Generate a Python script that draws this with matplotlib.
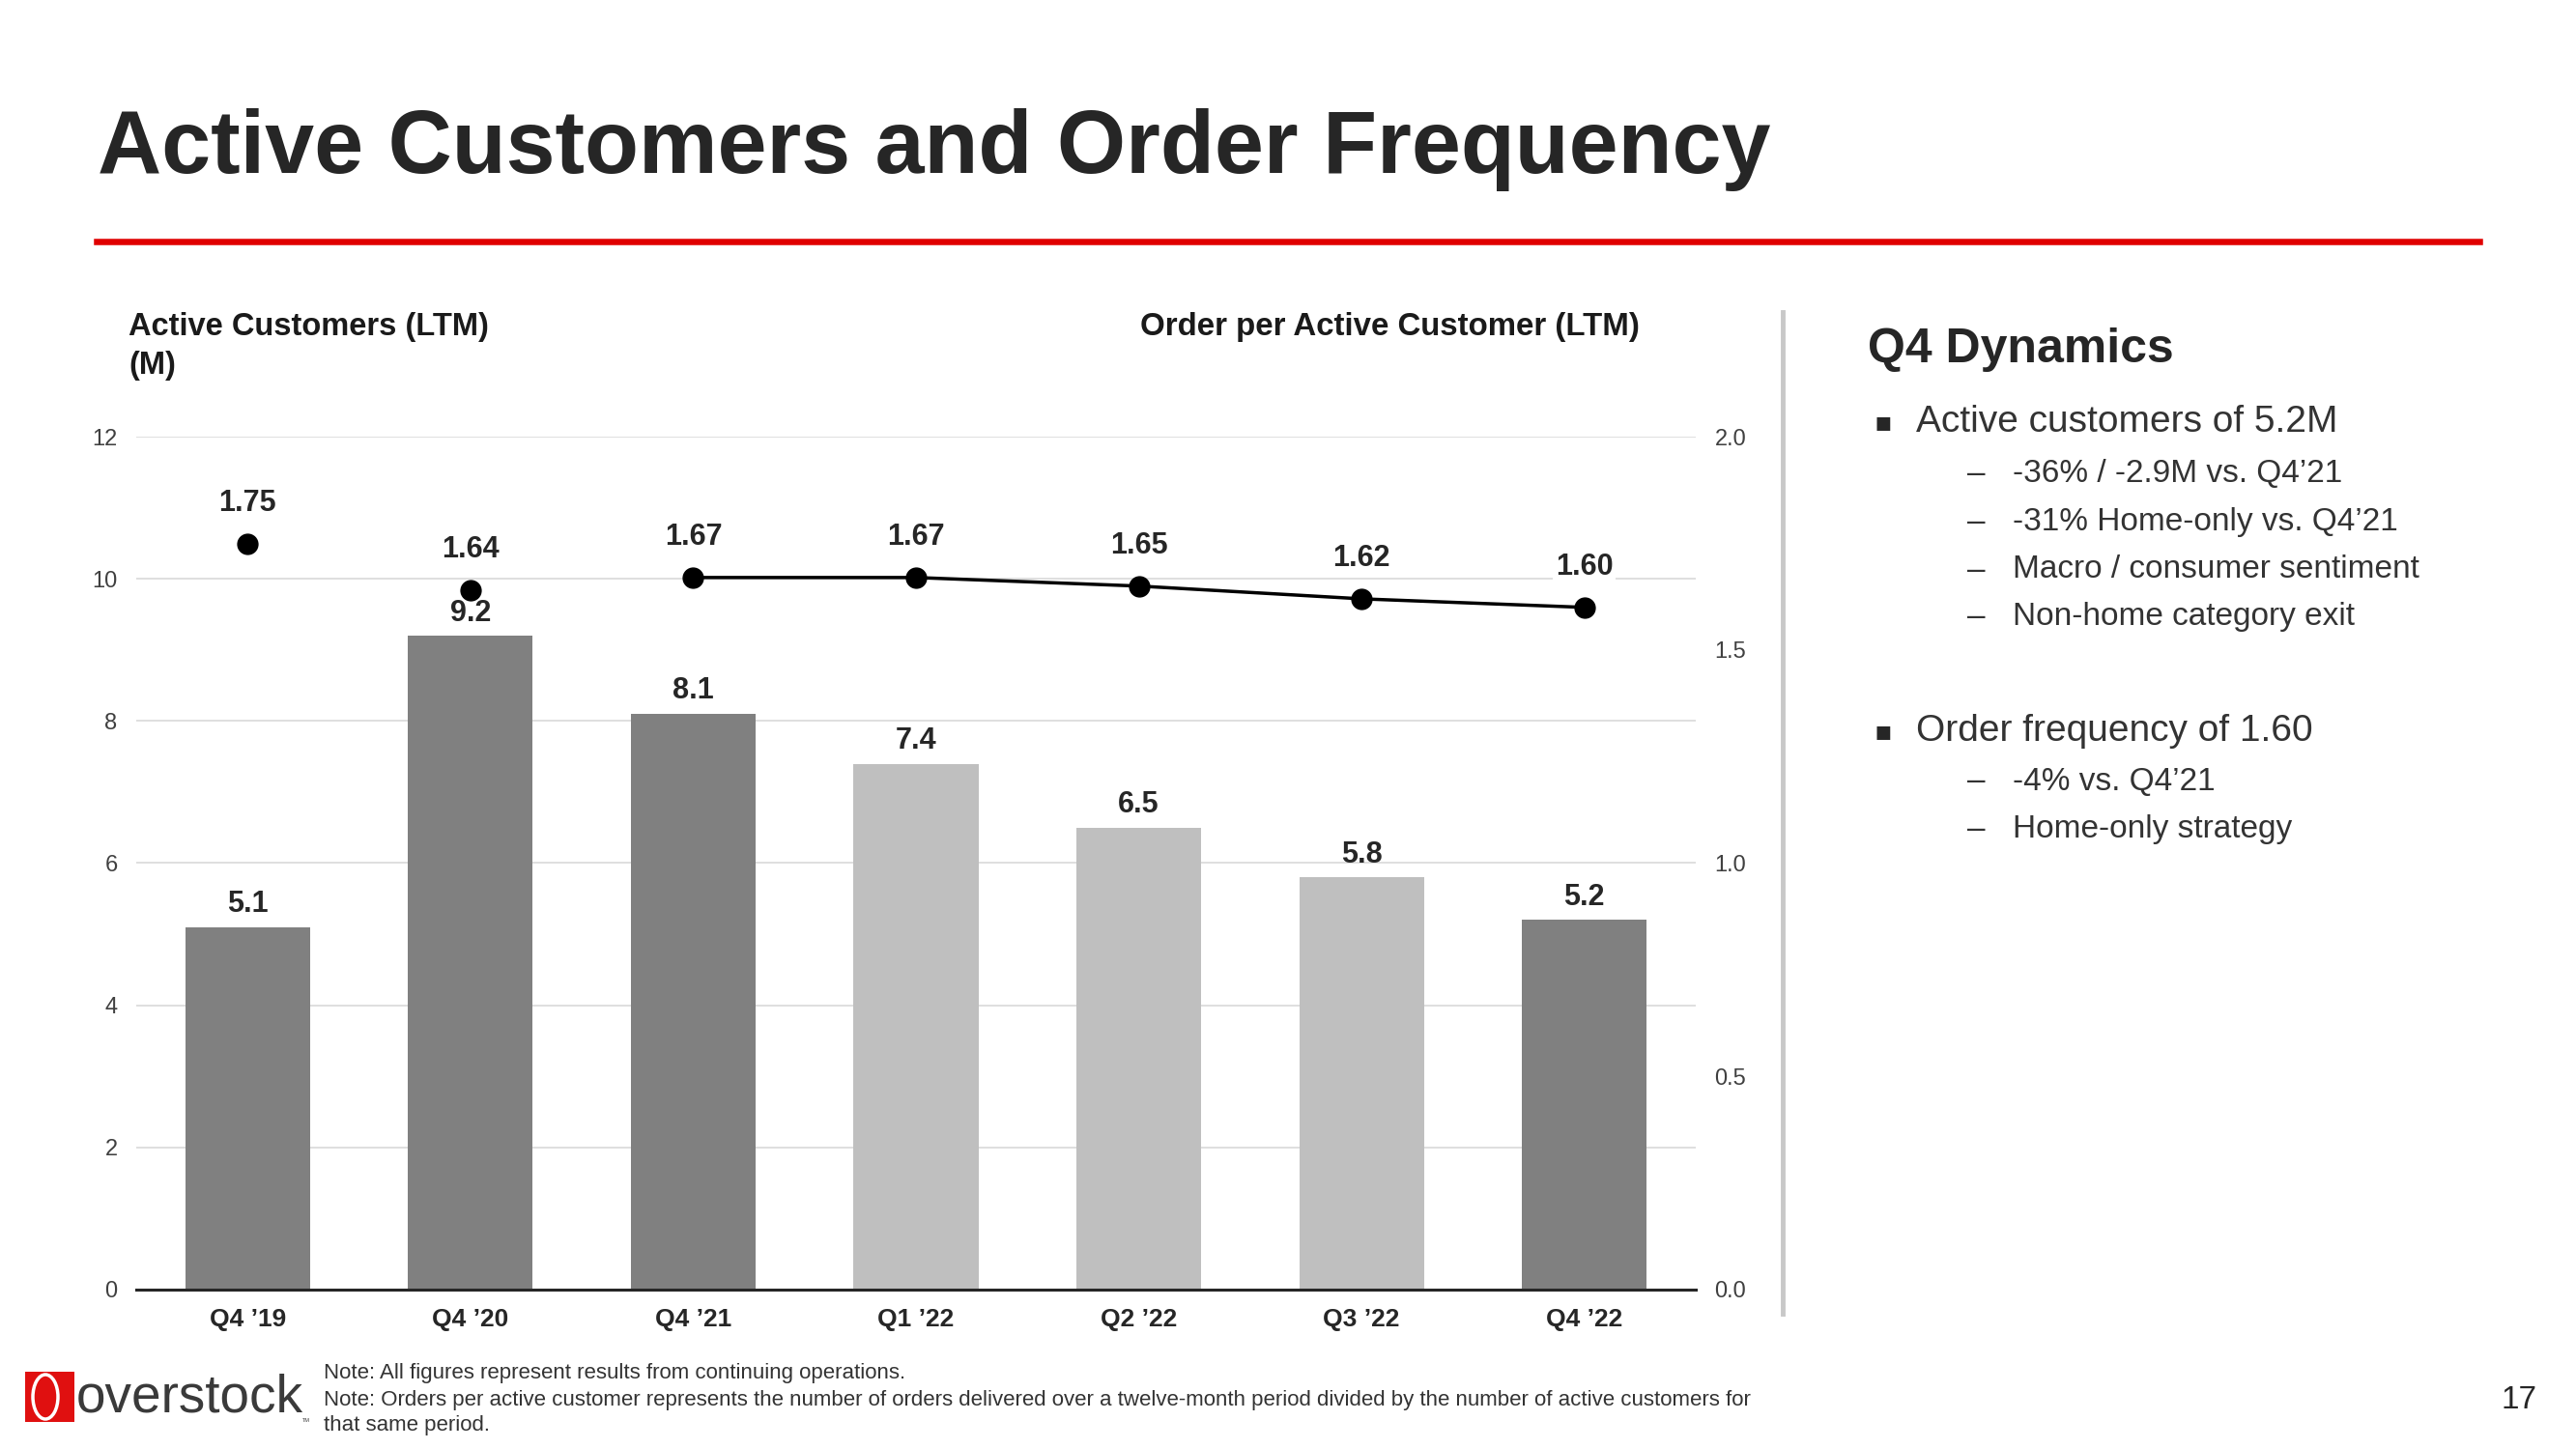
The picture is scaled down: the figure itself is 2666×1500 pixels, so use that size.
import matplotlib.pyplot as plt
from matplotlib.patches import Rectangle, Ellipse

quarters = ['Q4 \u201919', 'Q4 \u201920', 'Q4 \u201921', 'Q1 \u201922', 'Q2 \u201922', 'Q3 \u201922', 'Q4 \u201922']
customers = [5.1, 9.2, 8.1, 7.4, 6.5, 5.8, 5.2]
orders = [1.75, 1.64, 1.67, 1.67, 1.65, 1.62, 1.60]
bar_colors = ['#808080', '#808080', '#808080', '#BFBFBF', '#BFBFBF', '#BFBFBF', '#808080']

plt.rcParams['font.family'] = ['Liberation Sans', 'DejaVu Sans']

fig = plt.figure(figsize=(26.66, 15), dpi=100)

# title + red rule
fig.text(0.038, 0.8807, 'Active Customers and Order Frequency', fontsize=66, fontweight='bold',
         color='#262626', va='baseline', ha='left')
fig.add_artist(plt.Line2D([0.0375, 0.9625], [0.8333, 0.8333], color='#E00000', lw=4.7))

ax = fig.add_axes([0.0529, 0.1102, 0.6054, 0.5883])
x = list(range(len(quarters)))
ax.bar(x, customers, width=0.56, color=bar_colors, zorder=2)
ax.set_xlim(-0.5, 6.5)
ax.set_ylim(0, 12)
ax.set_yticks(range(0, 13, 2))
ax.grid(axis='y', color='#D9D9D9', lw=1.2, zorder=0)
for s in ['top', 'right', 'left']:
    ax.spines[s].set_visible(False)
ax.spines['bottom'].set_color('#262626')
ax.spines['bottom'].set_linewidth(2.2)
ax.spines['bottom'].set_zorder(3)
ax.tick_params(axis='y', length=0, labelsize=17, labelcolor='#404040', pad=14)
ax.tick_params(axis='x', length=0, pad=14)
ax.set_xticks(x)
ax.set_xticklabels(quarters, fontsize=19, fontweight='bold', color='#262626')

for xi, v in zip(x, customers):
    ax.annotate(f'{v:.1f}', (xi, v), xytext=(0, 17), textcoords='offset points',
                ha='center', va='center', fontsize=22, fontweight='bold', color='#262626')

ax2 = ax.twinx()
ax2.set_ylim(0, 2.0)
ax2.set_yticks([0, 0.5, 1.0, 1.5, 2.0])
ax2.set_yticklabels(['0.0', '0.5', '1.0', '1.5', '2.0'])
for s in ax2.spines.values():
    s.set_visible(False)
ax2.tick_params(axis='y', length=0, labelsize=17, labelcolor='#404040', pad=14)
ax2.plot(x[2:], orders[2:], color='black', lw=2.5, zorder=3)
ax2.plot(x, orders, 'o', color='black', markersize=15, zorder=4)
for xi, v in zip(x, orders):
    ax2.annotate(f'{v:.2f}', (xi, v), xytext=(0, 30), textcoords='offset points',
                 ha='center', va='center', fontsize=22, fontweight='bold', color='#262626',
                 bbox=dict(facecolor='white', edgecolor='none', pad=2))

# axis titles
fig.text(0.0499, 1 - 338 / 1500, 'Active Customers (LTM)', fontsize=23.5, fontweight='bold',
         color='#1a1a1a', va='center', ha='left')
fig.text(0.0499, 1 - 379 / 1500, '(M)', fontsize=23.5, fontweight='bold',
         color='#1a1a1a', va='center', ha='left')
fig.text(1697 / 2666, 1 - 338 / 1500, 'Order per Active Customer (LTM)', fontsize=23.8,
         fontweight='bold', color='#1a1a1a', va='center', ha='right')

# divider
fig.add_artist(plt.Line2D([1845 / 2666] * 2, [1 - 323 / 1500, 1 - 1360 / 1500], color='#C8C8C8', lw=3.5))

# right panel
fig.text(1933 / 2666, 1 - 362 / 1500, 'Q4 Dynamics', fontsize=36, fontweight='bold',
         color='#262626', va='center', ha='left')
bullets = [
    (437, 'Active customers of 5.2M', 0),
    (491, '-36% / -2.9M vs. Q4\u201921', 1),
    (541, '-31% Home-only vs. Q4\u201921', 1),
    (590, 'Macro / consumer sentiment', 1),
    (639, 'Non-home category exit', 1),
    (757, 'Order frequency of 1.60', 0),
    (809, '-4% vs. Q4\u201921', 1),
    (859, 'Home-only strategy', 1),
]
for yy, txt, lvl in bullets:
    fy = 1 - yy / 1500
    if lvl == 0:
        fig.text(1940 / 2666, fy, '\u25aa', fontsize=20, color='#262626', va='center', ha='left',
                 family=['DejaVu Sans'])
        fig.text(1983 / 2666, fy, txt, fontsize=28, color='#333333', va='center', ha='left')
    else:
        fig.text(2036 / 2666, fy, '\u2013', fontsize=24, color='#333333', va='center', ha='left')
        fig.text(2083 / 2666, fy, txt, fontsize=24, color='#333333', va='center', ha='left')

# footnotes
notes = ['Note: All figures represent results from continuing operations.',
         'Note: Orders per active customer represents the number of orders delivered over a '
         'twelve-month period divided by the number of active customers for',
         'that same period.']
for i, n in enumerate(notes):
    fig.text(335 / 2666, 1 - (1422 + 27 * i) / 1500, n, fontsize=16, color='#333333',
             va='center', ha='left')

# logo
fig.add_artist(Rectangle((26 / 2666, 1 - 1472 / 1500), 51 / 2666, 52 / 1500,
                         transform=fig.transFigure, facecolor='#E01010', edgecolor='none'))
fig.add_artist(Ellipse((47 / 2666, 1 - 1446 / 1500), 26 / 2666, 46 / 1500,
                       transform=fig.transFigure, facecolor='none', edgecolor='white', lw=2.5))
fig.text(79 / 2666, 1 - 1447 / 1500, 'overstock', fontsize=39.5, color='#3a3a3a',
         va='center', ha='left')
fig.text(313 / 2666, 1 - 1470 / 1500, 'TM', fontsize=4, color='#3a3a3a', va='center', ha='left')

fig.text(2607 / 2666, 1 - 1449 / 1500, '17', fontsize=24, color='#262626', va='center', ha='center')

fig.savefig('out.png', dpi=100, facecolor='white')
